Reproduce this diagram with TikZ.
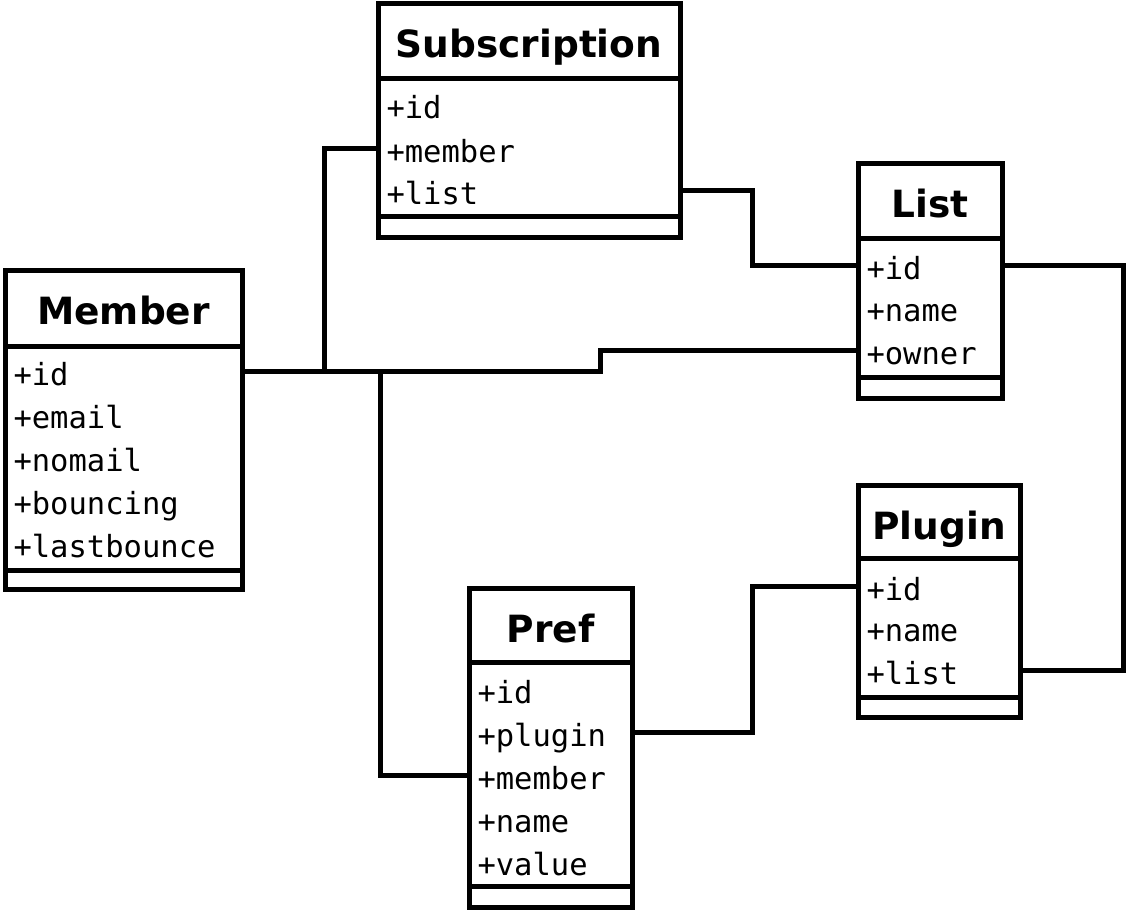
\documentclass[tikz,border=0pt]{standalone}
\usepackage{fontspec}
\setmainfont{DejaVu Sans}
\setmonofont{DejaVu Sans Mono}
\begin{document}
\begin{tikzpicture}[x=1pt,y=-1pt,line width=5pt,
  classbox/.style={draw,rectangle,inner sep=0,outer sep=0,anchor=north west,fill=white},
  classtitle/.style={inner sep=0,anchor=base,font=\fontsize{37.5}{42}\selectfont\bfseries},
  attr/.style={inner sep=0,anchor=base west,text height=28pt,text depth=0pt,font=\fontsize{30.5}{36}\selectfont\ttfamily},
  link/.style={draw,line width=5pt}]
\useasboundingbox (0,0) rectangle (1126,910);
% Subscription
\node[classbox,minimum width=302pt,minimum height=234pt] (sub) at (378,3.5) {};
\draw (378,78) -- (680,78) (378,216) -- (680,216);
\node[classtitle] (subt) at (529,57) {Subscription};
\node[attr] (s-id) at (384,118) {+id};
\node[attr] (s-member) at (384,162) {+member};
\node[attr] (s-list) at (384,204) {+list};
% Member
\node[classbox,minimum width=237pt,minimum height=319pt] (mem) at (5,270) {};
\draw (5,346) -- (242,346) (5,570) -- (242,570);
\node[classtitle] (memt) at (123.5,324) {Member};
\node[attr] (m-id) at (11,385) {+id};
\node[attr] (m-email) at (11,428) {+email};
\node[attr] (m-nomail) at (11,471) {+nomail};
\node[attr] (m-bouncing) at (11,514) {+bouncing};
\node[attr] (m-lastbounce) at (11,557) {+lastbounce};
% List
\node[classbox,minimum width=144pt,minimum height=235pt] (list) at (858,163) {};
\draw (858,238) -- (1002,238) (858,377) -- (1002,377);
\node[classtitle] (listt) at (930,217) {List};
\node[attr] (l-id) at (864,279) {+id};
\node[attr] (l-name) at (864,321) {+name};
\node[attr] (l-owner) at (864,364) {+owner};
% Plugin
\node[classbox,minimum width=162pt,minimum height=232pt] (plug) at (858,485) {};
\draw (858,558) -- (1020,558) (858,697) -- (1020,697);
\node[classtitle] (plugt) at (939,539) {Plugin};
\node[attr] (pl-id) at (864,600) {+id};
\node[attr] (pl-name) at (864,641) {+name};
\node[attr] (pl-list) at (864,684) {+list};
% Pref
\node[classbox,minimum width=163pt,minimum height=319pt] (pref) at (469,588) {};
\draw (469,662) -- (632,662) (469,886) -- (632,886);
\node[classtitle] (preft) at (550.5,642) {Pref};
\node[attr] (p-id) at (475,703) {+id};
\node[attr] (p-plugin) at (475,746) {+plugin};
\node[attr] (p-member) at (475,789) {+member};
\node[attr] (p-name) at (475,832) {+name};
\node[attr] (p-value) at (475,875) {+value};
% connectors
\coordinate (j1) at (324,0);
\coordinate (j2) at (380,0);
\coordinate (j3) at (600,0);
\coordinate (k1) at (752,0);
\coordinate (k2) at (1123.5,0);
\draw[link] (mem.east |- m-id.west) -- (j1 |- m-id.west) |- (sub.west |- s-member.west);
\draw[link] (mem.east |- m-id.west) -- (j3 |- m-id.west) |- (list.west |- l-owner.west);
\draw[link] (j2 |- m-id.west) |- (pref.west |- p-member.west);
\draw[link] (sub.east |- s-list.west) -| (k1 |- l-id.west) -- (list.west |- l-id.west);
\draw[link] (list.east |- l-id.west) -| (k2 |- pl-list.west) -- (plug.east |- pl-list.west);
\draw[link] (pref.east |- p-plugin.west) -| (k1 |- pl-id.west) -- (plug.west |- pl-id.west);
\end{tikzpicture}
\end{document}
